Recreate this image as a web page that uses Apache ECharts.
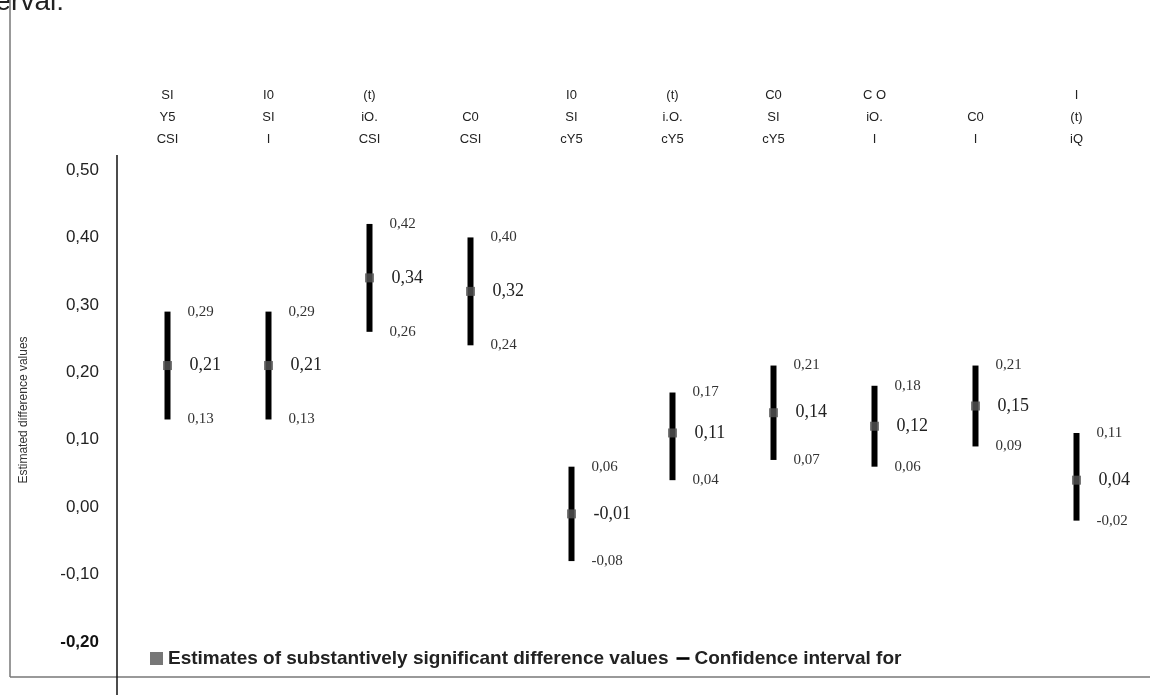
<!DOCTYPE html>
<html>
<head>
<meta http-equiv="Content-Type" content="text/html;charset=utf-8">
<script src="https://cdn.jsdelivr.net/npm/echarts@6/dist/echarts.min.js"></script>
<title>Confidence interval</title>
<style>
    html, body { margin: 0; padding: 0; background: #fff; }
    #main { width: 1150px; height: 695px; }
</style>
</head>
<body>
    <div id="main"></div>
    <script type="text/javascript">
        // categories (top labels as far as they can be read)
        var categories = ["SI\nY5\nCSI", "I0\nSI\nI", "(t)\niO.\nCSI", "C0\nCSI", "I0\nSI\ncY5",
                          "(t)\ni.O.\ncY5", "C0\nSI\ncY5", "C O\niO.\nI", "C0\nI", "I\n(t)\niQ"];
        var estimates = [0.21, 0.21, 0.34, 0.32, -0.01, 0.11, 0.14, 0.12, 0.15, 0.04];
        var lower     = [0.13, 0.13, 0.26, 0.24, -0.08, 0.04, 0.07, 0.06, 0.09, -0.02];
        var upper     = [0.29, 0.29, 0.42, 0.40, 0.06, 0.17, 0.21, 0.18, 0.21, 0.11];

        function fmt(v) {
            return v.toFixed(2).replace('.', ',');
        }

        var ciData = categories.map(function (c, i) {
            return [i, lower[i], upper[i], estimates[i]];
        });

        var myChart = echarts.init(document.getElementById('main'));
        option = {
            animation: false,
            textStyle: { fontFamily: 'Liberation Sans' },
            graphic: [
                { type: 'text', x: 64, y: 16, style: { text: 'Confidence interval:', font: '28px Liberation Sans', fill: '#222', textAlign: 'right', textVerticalAlign: 'bottom' } },
                { type: 'line', shape: { x1: 10, y1: 0, x2: 10, y2: 677 }, style: { stroke: '#777', lineWidth: 1.5 } },
                { type: 'line', shape: { x1: 10, y1: 677, x2: 1150, y2: 677 }, style: { stroke: '#777', lineWidth: 1.5 } },
                { type: 'line', shape: { x1: 117, y1: 155, x2: 117, y2: 695 }, style: { stroke: '#111', lineWidth: 1.5 } },
                { type: 'text', x: 24, y: 410, rotation: Math.PI / 2, style: { text: 'Estimated difference values', font: '12px Liberation Sans', fill: '#333', textAlign: 'center', textVerticalAlign: 'middle' } }
            ],
            grid: { left: 117, right: 23, top: 170, bottom: 53 },
            legend: {
                left: 145,
                top: 644,
                itemWidth: 13,
                itemHeight: 13,
                itemGap: 8,
                textStyle: { fontSize: 19, fontWeight: 'bold', color: '#222' },
                data: [
                    { name: 'Estimates of substantively significant difference values', icon: 'rect' },
                    { name: 'Confidence interval for', icon: 'path://M0,5H10V7H0Z' }
                ]
            },
            xAxis: {
                type: 'category',
                position: 'top',
                data: categories,
                axisLine: { show: false },
                axisTick: { show: false },
                axisLabel: { fontSize: 13, lineHeight: 22, color: '#222', margin: 20 }
            },
            yAxis: {
                type: 'value',
                min: -0.2,
                max: 0.5,
                interval: 0.1,
                axisLine: { show: false },
                axisTick: { show: false },
                splitLine: { show: false },
                axisLabel: {
                    fontSize: 17,
                    color: '#222',
                    margin: 18,
                    formatter: function (v) {
                        var s = fmt(v);
                        return Math.abs(v + 0.2) < 1e-9 ? '{b|' + s + '}' : s;
                    },
                    rich: { b: { fontSize: 17, fontWeight: 'bold', color: '#111' } }
                }
            },
            series: [
                {
                    name: 'Confidence interval for',
                    type: 'custom',
                    itemStyle: { color: '#000' },
                    renderItem: function (params, api) {
                        var i = api.value(0);
                        var top = api.coord([i, api.value(2)]);
                        var bot = api.coord([i, api.value(1)]);
                        var mid = api.coord([i, api.value(3)]);
                        var x = top[0];
                        var tf = '15px Liberation Serif';
                        return {
                            type: 'group',
                            children: [
                                { type: 'rect', shape: { x: x - 3, y: top[1], width: 6, height: bot[1] - top[1] }, style: { fill: '#000' } },
                                { type: 'text', x: x + 20, y: top[1], style: { text: fmt(api.value(2)), font: tf, fill: '#333', textVerticalAlign: 'middle' } },
                                { type: 'text', x: x + 22, y: mid[1], style: { text: fmt(api.value(3)), font: '18px Liberation Serif', fill: '#222', textVerticalAlign: 'middle' } },
                                { type: 'text', x: x + 20, y: bot[1], style: { text: fmt(api.value(1)), font: tf, fill: '#333', textVerticalAlign: 'middle' } }
                            ]
                        };
                    },
                    data: ciData,
                    z: 2
                },
                {
                    name: 'Estimates of substantively significant difference values',
                    type: 'scatter',
                    symbol: 'rect',
                    symbolSize: 9,
                    itemStyle: { color: '#555' },
                    data: estimates.map(function (v, i) { return [i, v]; }),
                    z: 3
                }
            ]
        };
        myChart.setOption(option);
    </script>
</body>
</html>
